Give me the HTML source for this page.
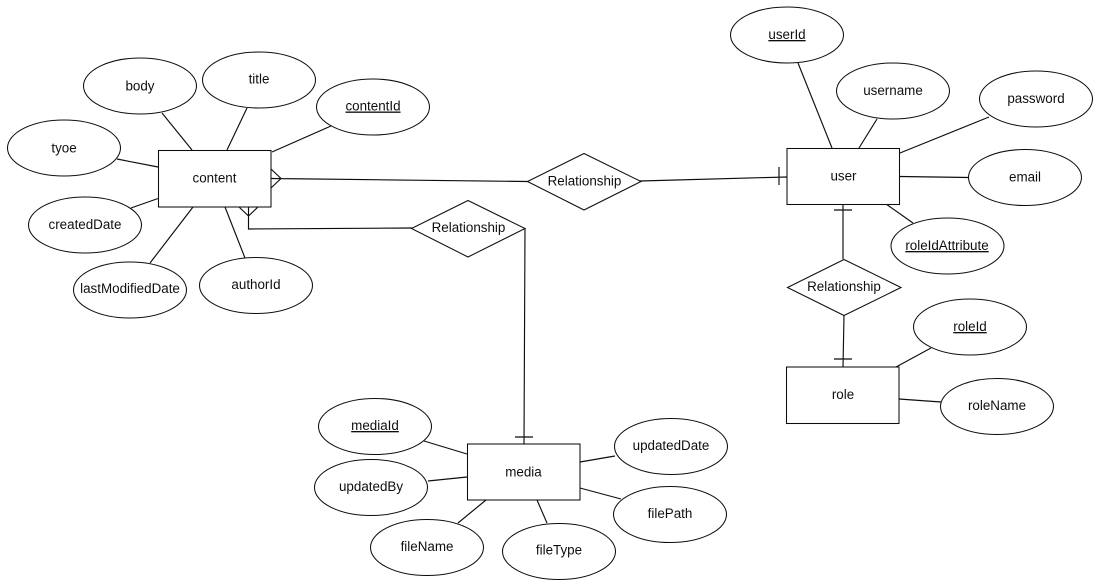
<!DOCTYPE html>
<html lang="en">
<head>
<meta charset="utf-8">
<title>ER Diagram</title>
<style>
html,body{margin:0;padding:0;background:#fff;width:1100px;height:587px;overflow:hidden}
svg{display:block}
.s{fill:#fff;stroke:#111;stroke-width:1.05}
.l{fill:none;stroke:#111;stroke-width:1.15}
text{font-family:"Liberation Sans",sans-serif;font-size:13.4px;fill:#111;text-anchor:middle}
.u{text-decoration:underline}
</style>
</head>
<body>
<svg width="1100" height="587" viewBox="0 0 1100 587" xmlns="http://www.w3.org/2000/svg">
<defs><filter id="b" filterUnits="userSpaceOnUse" x="0" y="0" width="1100" height="587"><feGaussianBlur stdDeviation="0.35"/></filter></defs>
<rect width="1100" height="587" fill="#fff"/>
<g filter="url(#b)">
<g class="l">
<path class="l" d="M162 113L192 150M247 108L227 150M331 126L272 152M117 159L158 167M131 208L158 198.500M150 263L193 207M245 258L225 207"/>
<path class="l" d="M271 178.500L528 181.500M271 169L281 178.500L271 188"/>
<path class="l" d="M248.500 207V229L412 228M239 207L248.500 216L258 207"/>
<path class="l" d="M525 228L524 444M515 437H533"/>
<path class="l" d="M640 181L787 177M779 167V185"/>
<path class="l" d="M843 204V259M834 210H852"/>
<path class="l" d="M844 315L843 367M834 359H852"/>
<path class="l" d="M798 63L832 148M877 119L859 148M989 117L900 153M900 176.500L969 177.500M913 223L886 204"/>
<path class="l" d="M931 348L896 367M899 399L941 402"/>
<path class="l" d="M424 441L467 454M428 481L467 477M458 523L486 500M547 523L537 500M621 499L580 488M615 456L580 462"/>
</g>
<g class="s">
<rect class="s" x="158.500" y="150.500" width="112.500" height="56.500"/>
<rect class="s" x="787" y="148.500" width="112.500" height="56"/>
<rect class="s" x="786.500" y="367" width="112.500" height="56.500"/>
<rect class="s" x="467.500" y="444" width="112.500" height="56"/>
<polygon class="s" points="584,153.500 641,181.500 584,210 527.500,181.500"/>
<polygon class="s" points="468,200.500 525,228.500 468,257 411.500,228.500"/>
<polygon class="s" points="844,259.500 901,287.500 844,315.500 787.500,287.500"/>
<ellipse class="s" cx="140" cy="86" rx="56.500" ry="28"/>
<ellipse class="s" cx="259" cy="80" rx="56.500" ry="28"/>
<ellipse class="s" cx="373" cy="107" rx="56.500" ry="28"/>
<ellipse class="s" cx="64" cy="148" rx="56.500" ry="28"/>
<ellipse class="s" cx="85" cy="225" rx="56.500" ry="28"/>
<ellipse class="s" cx="130" cy="290" rx="56.500" ry="28"/>
<ellipse class="s" cx="256" cy="285.500" rx="56.500" ry="28"/>
<ellipse class="s" cx="787" cy="35" rx="56.500" ry="28"/>
<ellipse class="s" cx="893" cy="91" rx="56.500" ry="28"/>
<ellipse class="s" cx="1036" cy="99" rx="56.500" ry="28"/>
<ellipse class="s" cx="1025" cy="177.500" rx="56.500" ry="28"/>
<ellipse class="s" cx="947.500" cy="246" rx="56.500" ry="28"/>
<ellipse class="s" cx="970" cy="327" rx="56.500" ry="28"/>
<ellipse class="s" cx="997" cy="406.500" rx="56.500" ry="28"/>
<ellipse class="s" cx="375" cy="426.500" rx="56.500" ry="28"/>
<ellipse class="s" cx="371" cy="487.500" rx="56.500" ry="28"/>
<ellipse class="s" cx="427" cy="547.500" rx="56.500" ry="28"/>
<ellipse class="s" cx="559" cy="551.500" rx="56.500" ry="28"/>
<ellipse class="s" cx="670" cy="514.500" rx="56.500" ry="28"/>
<ellipse class="s" cx="671" cy="446.500" rx="56.500" ry="28"/>
</g>
<text x="214.500" y="182.500">content</text>
<text x="843.500" y="180.500">user</text>
<text x="843" y="399">role</text>
<text x="523.500" y="476.500">media</text>
<text x="584.500" y="185.500">Relationship</text>
<text x="468.500" y="232">Relationship</text>
<text x="844" y="291">Relationship</text>
<text x="140" y="90.500">body</text>
<text x="259" y="83.500">title</text>
<text class="u" x="373" y="110.500">contentId</text>
<text x="64" y="152.500">tyoe</text>
<text x="85" y="229">createdDate</text>
<text x="130" y="293">lastModifiedDate</text>
<text x="256" y="289">authorId</text>
<text class="u" x="787" y="39">userId</text>
<text x="893" y="95">username</text>
<text x="1036" y="103">password</text>
<text x="1025" y="181.500">email</text>
<text class="u" x="947" y="250">roleIdAttribute</text>
<text class="u" x="970" y="331">roleId</text>
<text x="997" y="410">roleName</text>
<text class="u" x="375" y="430">mediaId</text>
<text x="371" y="491">updatedBy</text>
<text x="427" y="551">fileName</text>
<text x="559" y="554.500">fileType</text>
<text x="670" y="518">filePath</text>
<text x="671" y="450">updatedDate</text>
</g>
</svg>
</body>
</html>
